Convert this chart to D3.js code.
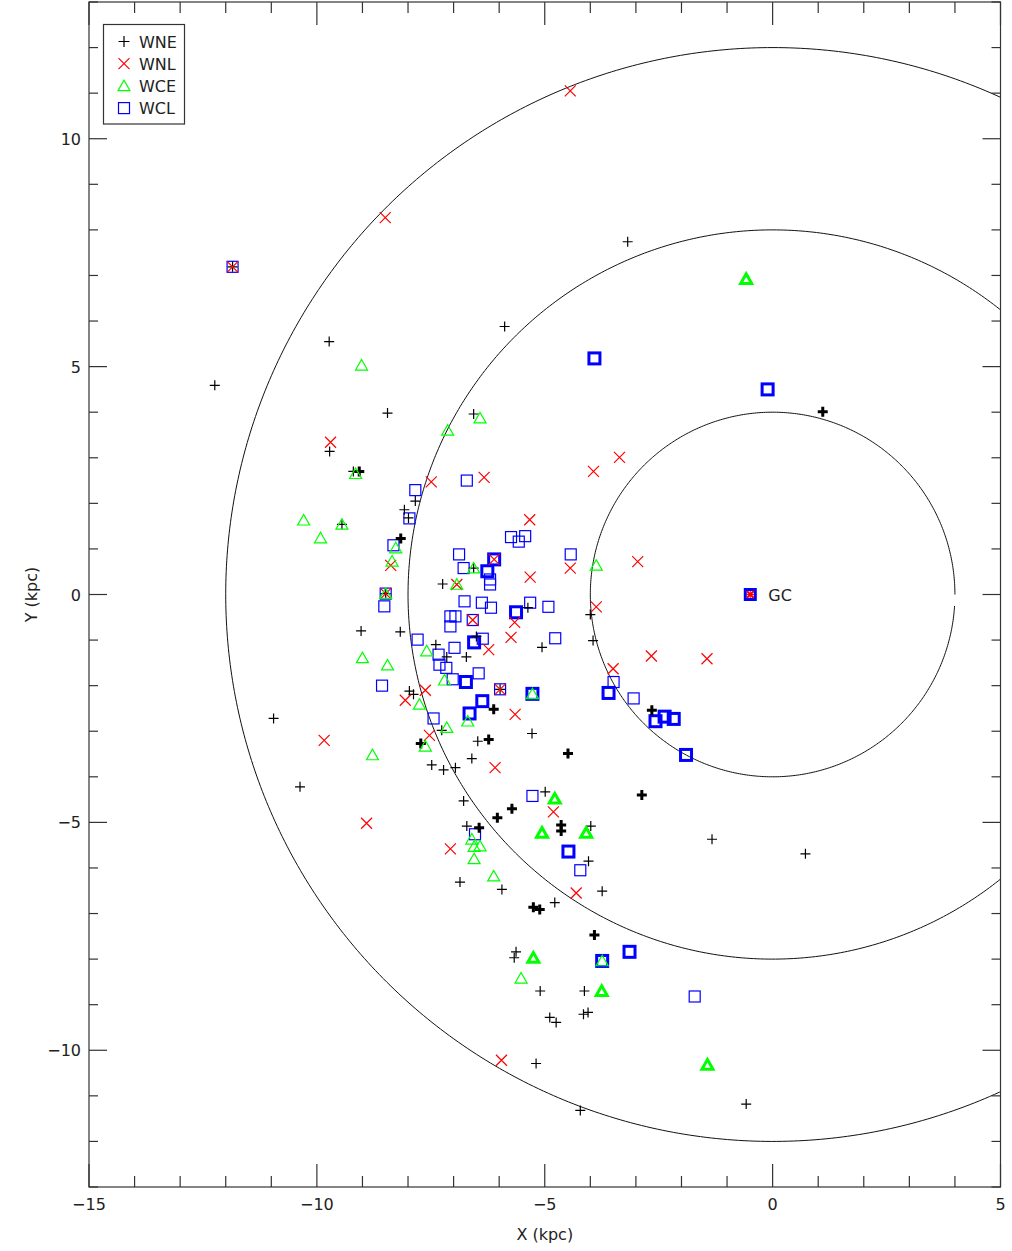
<!DOCTYPE html>
<html><head><meta charset="utf-8">
<script src="https://cdn.jsdelivr.net/npm/d3@7"></script>
<style>
body{margin:0;background:#fff;}
text{font-family:"DejaVu Sans",sans-serif;fill:#222;}
</style></head>
<body>
<svg id="c" width="1012" height="1251"></svg>
<script>
// ---- data (kpc) ----
const xDomain = [-15, 5];
const yDomain = [-13, 13];
const xTickLabels = [-15, -10, -5, 0, 5];
const yTickLabels = [-10, -5, 0, 5, 10];
const ringRadii = [4, 8, 12];
const gcPoint = [-0.49, 0];

const wneThin = [[-9.73,5.55],[-12.24,4.59],[-8.45,3.98],[-9.72,3.14],[-9.2,2.7],[-9.45,1.54],[-8.08,1.86],[-3.18,7.74],[-5.88,5.88],[-6.56,3.96],[-7.84,2.05],[-7.99,1.68],[-6.56,0.58],[-7.24,0.23],[-9.03,-0.80],[-8.17,-0.82],[-10.95,-2.72],[-10.37,-4.22],[-5.37,-0.29],[-4.0,-0.44],[-5.06,-1.16],[-3.94,-1.01],[-7.39,-1.10],[-6.72,-1.37],[-7.15,-1.37],[-5.98,-2.08],[-7.97,-2.12],[-7.88,-2.19],[-7.26,-2.98],[-6.47,-3.22],[-5.28,-3.05],[-6.60,-3.60],[-7.48,-3.74],[-7.22,-3.85],[-6.96,-3.80],[-4.99,-4.33],[-6.78,-4.53],[-6.71,-5.08],[-3.99,-5.08],[-4.04,-5.85],[-1.33,-5.37],[0.72,-5.69],[-6.86,-6.31],[-5.94,-6.47],[-3.74,-6.51],[-4.78,-6.76],[-5.63,-7.84],[-5.67,-7.97],[-5.10,-8.70],[-4.13,-8.70],[-4.89,-9.28],[-4.75,-9.39],[-4.15,-9.21],[-4.05,-9.17],[-5.19,-10.29],[-4.22,-11.32],[-0.58,-11.18],[-11.85,7.19],[-8.49,0.02],[-6.5,-0.92]];
const wneBold = [[-9.07,2.7],[-8.16,1.23],[1.10,4.01],[-2.65,-2.54],[-6.12,-2.52],[-7.72,-3.27],[-6.23,-3.18],[-4.49,-3.49],[-2.87,-4.40],[-5.72,-4.70],[-6.04,-4.90],[-6.44,-5.12],[-4.64,-5.06],[-4.64,-5.19],[-5.25,-6.86],[-5.11,-6.91],[-3.91,-7.47]];
const wnlThin = [[-4.44,11.05],[-8.50,8.27],[-9.70,3.34],[-3.36,3.01],[-3.93,2.70],[-7.49,2.47],[-6.33,2.57],[-5.33,1.64],[-2.96,0.72],[-4.44,0.58],[-5.32,0.38],[-8.38,0.64],[-6.58,-0.56],[-5.66,-0.61],[-3.87,-0.27],[-5.74,-0.94],[-2.66,-1.35],[-1.44,-1.41],[-3.50,-1.63],[-6.23,-1.21],[-5.98,-2.08],[-7.62,-2.10],[-8.06,-2.32],[-5.65,-2.63],[-7.53,-3.09],[-6.09,-3.80],[-9.84,-3.20],[-8.91,-5.02],[-4.81,-4.77],[-7.07,-5.58],[-4.31,-6.55],[-5.95,-10.22],[-6.93,0.22],[-6.11,0.77],[-11.85,7.19],[-8.49,0.02]];
const wceThin = [[-9.02,5.03],[-9.15,2.65],[-10.29,1.63],[-9.92,1.24],[-9.45,1.54],[-8.27,1.02],[-8.35,0.73],[-6.42,3.87],[-7.13,3.60],[-3.87,0.64],[-6.56,0.58],[-6.93,0.22],[-9.0,-1.39],[-8.45,-1.55],[-8.78,-3.52],[-7.59,-1.24],[-7.20,-1.88],[-7.75,-2.41],[-6.69,-2.78],[-7.15,-2.92],[-7.62,-3.33],[-6.60,-5.37],[-6.42,-5.52],[-6.55,-5.53],[-6.55,-5.80],[-6.12,-6.18],[-5.52,-8.42],[-5.27,-2.18],[-3.74,-8.04],[-8.49,0.02]];
const wceBold = [[-0.58,6.92],[-4.78,-4.48],[-5.06,-5.23],[-4.09,-5.23],[-5.25,-7.97],[-3.75,-8.70],[-1.43,-10.32]];
const wclThin = [[-11.85,7.19],[-7.97,1.67],[-8.32,1.08],[-8.49,0.02],[-8.52,-0.26],[-8.57,-2.0],[-6.71,2.50],[-7.84,2.29],[-5.74,1.26],[-5.43,1.28],[-5.57,1.16],[-4.43,0.88],[-6.88,0.88],[-6.78,0.58],[-6.20,0.33],[-6.20,0.22],[-6.76,-0.15],[-6.38,-0.18],[-6.18,-0.29],[-5.32,-0.18],[-4.92,-0.27],[-7.07,-0.48],[-6.96,-0.48],[-7.07,-0.70],[-6.58,-0.56],[-4.77,-0.96],[-3.49,-1.92],[-3.05,-2.28],[-7.79,-0.99],[-6.98,-1.17],[-6.36,-0.97],[-7.33,-1.32],[-7.31,-1.54],[-7.16,-1.61],[-6.45,-1.73],[-7.02,-1.86],[-5.98,-2.08],[-7.44,-2.72],[-5.27,-4.42],[-6.53,-5.26],[-4.22,-6.05],[-1.71,-8.82]];
const wclBold = [[-3.91,5.18],[-0.11,4.50],[-6.11,0.77],[-6.26,0.51],[-5.63,-0.39],[-6.55,-1.05],[-3.60,-2.16],[-2.57,-2.78],[-2.37,-2.68],[-2.17,-2.73],[-1.90,-3.52],[-6.73,-1.92],[-5.27,-2.18],[-6.37,-2.34],[-6.65,-2.61],[-4.48,-5.64],[-3.74,-8.04],[-3.14,-7.84]];

const legendNames = ["WNE","WNL","WCE","WCL"];

// ---- layout ----
const L = 89, R = 1000.5, T = 2, B = 1187;
const x = d3.scaleLinear().domain(xDomain).range([L, R]);
const y = d3.scaleLinear().domain(yDomain).range([B, T]);
const svg = d3.select("#c");

svg.append("defs").append("clipPath").attr("id","clip")
  .append("rect").attr("x",L).attr("y",T).attr("width",R-L).attr("height",B-T);

// rings (drawn with a small gap at angle 0, like the original)
const ringG = svg.append("g").attr("clip-path","url(#clip)");
ringRadii.forEach(r => {
  const pts = d3.range(0, 2*Math.PI - 0.06, 0.01).map(a => [x(r*Math.cos(a)), y(r*Math.sin(a))]);
  ringG.append("path").attr("d", d3.line()(pts)).attr("fill","none").attr("stroke","#111").attr("stroke-width",1);
});

// symbol drawers
const COL = {WNE:"#000", WNL:"#ff0000", WCE:"#00ff00", WCL:"#0000ff"};
function plus(g, cx, cy, s, w, c){
  g.append("path").attr("d",`M${cx-s},${cy}H${cx+s}M${cx},${cy-s}V${cy+s}`).attr("stroke",c).attr("stroke-width",w).attr("fill","none");
}
function cross(g, cx, cy, s, w, c){
  g.append("path").attr("d",`M${cx-s},${cy-s}L${cx+s},${cy+s}M${cx-s},${cy+s}L${cx+s},${cy-s}`).attr("stroke",c).attr("stroke-width",w).attr("fill","none");
}
function tri(g, cx, cy, s, w, c){
  g.append("path").attr("d",`M${cx-s},${cy+s*0.8}L${cx+s},${cy+s*0.8}L${cx},${cy-s*0.95}Z`).attr("stroke",c).attr("stroke-width",w).attr("fill","none");
}
function sq(g, cx, cy, s, w, c){
  g.append("rect").attr("x",cx-s).attr("y",cy-s).attr("width",2*s).attr("height",2*s).attr("stroke",c).attr("stroke-width",w).attr("fill","none");
}

const pg = svg.append("g").attr("clip-path","url(#clip)");
wclThin.forEach(d => sq(pg, x(d[0]), y(d[1]), 5.5, 1.2, COL.WCL));
wclBold.forEach(d => sq(pg, x(d[0]), y(d[1]), 5.5, 3, COL.WCL));
wneThin.forEach(d => plus(pg, x(d[0]), y(d[1]), 5, 1.2, COL.WNE));
wneBold.forEach(d => plus(pg, x(d[0]), y(d[1]), 5, 3, COL.WNE));
wnlThin.forEach(d => cross(pg, x(d[0]), y(d[1]), 5.5, 1.2, COL.WNL));
wceThin.forEach(d => tri(pg, x(d[0]), y(d[1]), 6, 1.2, COL.WCE));
wceBold.forEach(d => tri(pg, x(d[0]), y(d[1]), 5.5, 3, COL.WCE));

// Galactic centre marker
const gx = x(gcPoint[0]), gy = y(gcPoint[1]);
sq(pg, gx, gy, 5, 3, COL.WCL);
cross(pg, gx, gy, 3.5, 2, COL.WNL);
plus(pg, gx, gy, 3.5, 1, COL.WNL);
svg.append("text").attr("x", gx+18).attr("y", gy+6).attr("font-size",16).text("GC");

// frame
svg.append("rect").attr("x",L).attr("y",T).attr("width",R-L).attr("height",B-T).attr("fill","none").attr("stroke","#333").attr("stroke-width",1.2);

// ticks
const tg = svg.append("g").attr("stroke","#333").attr("stroke-width",1.2);
d3.range(xDomain[0], xDomain[1]+0.5, 1).forEach(v => {
  const len = (v % 5 === 0) ? 23 : 11;
  const px = x(v);
  tg.append("line").attr("x1",px).attr("x2",px).attr("y1",B).attr("y2",B-len);
  tg.append("line").attr("x1",px).attr("x2",px).attr("y1",T).attr("y2",T+len);
});
d3.range(yDomain[0], yDomain[1]+0.5, 1).forEach(v => {
  const len = (v % 5 === 0) ? 18 : 9;
  const py = y(v);
  tg.append("line").attr("x1",L).attr("x2",L+len).attr("y1",py).attr("y2",py);
  tg.append("line").attr("x1",R).attr("x2",R-len).attr("y1",py).attr("y2",py);
});

// tick labels
const fmt = v => v < 0 ? "\u2212" + Math.abs(v) : String(v);
xTickLabels.forEach(v => svg.append("text").attr("x",x(v)).attr("y",B+23).attr("text-anchor","middle").attr("font-size",16).text(fmt(v)));
yTickLabels.forEach(v => svg.append("text").attr("x",L-8).attr("y",y(v)+6).attr("text-anchor","end").attr("font-size",16).text(fmt(v)));

// axis titles
svg.append("text").attr("x",(L+R)/2).attr("y",1240).attr("text-anchor","middle").attr("font-size",16).text("X (kpc)");
svg.append("text").attr("transform",`translate(37,${(T+B)/2}) rotate(-90)`).attr("text-anchor","middle").attr("font-size",16).text("Y (kpc)");

// legend
const lg = svg.append("g");
lg.append("rect").attr("x",103.5).attr("y",24.5).attr("width",81).attr("height",99.5).attr("fill","#fff").attr("stroke","#333").attr("stroke-width",1.2);
const drawers = [plus, cross, tri, sq];
legendNames.forEach((n,i) => {
  const cy = 41.5 + i*22.2;
  drawers[i](lg, 124, cy, n==="WCL"?5.5:(n==="WCE"?6:5.5), 1.2, COL[n]);
  lg.append("text").attr("x",139).attr("y",cy+6).attr("font-size",16).text(n);
});
</script>
</body></html>
